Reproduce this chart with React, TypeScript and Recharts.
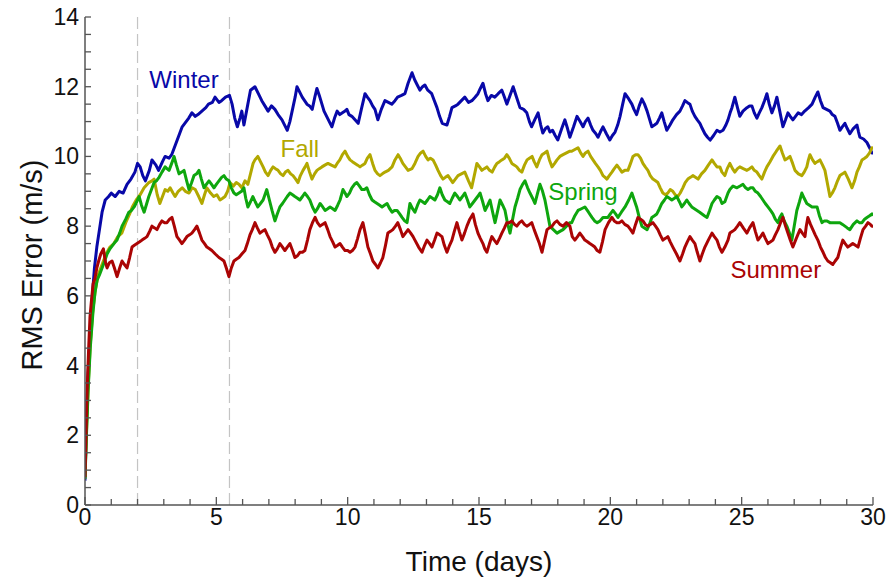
import { LineChart, Line, XAxis, YAxis, ReferenceLine, ReferenceDot } from "recharts";

// RMS forecast error per season: [day, m/s]
const WINTER: [number, number][] = [
  [0,0.7],[0.05,2.2],[0.12,3.8],[0.2,5.0],[0.28,6.0],[0.36,6.8],[0.45,7.4],[0.55,7.9],[0.65,8.4],[0.77,8.75],[0.9,8.85],[1.0,8.95],[1.15,8.85],[1.3,9.0],[1.45,8.95],[1.6,9.2],[1.75,9.35],[1.9,9.55],[2.0,9.8],[2.1,9.7],[2.2,9.45],[2.3,9.3],[2.45,9.6],[2.55,9.9],[2.7,9.75],[2.8,9.6],[2.95,9.85],[3.05,10.0],[3.2,9.95],[3.3,10.05],[3.45,10.35],[3.6,10.65],[3.7,10.85],[3.85,11.0],[3.95,11.1],[4.07,11.25],[4.2,11.15],[4.3,11.2],[4.45,11.3],[4.6,11.4],[4.7,11.5],[4.85,11.55],[4.95,11.7],[5.1,11.55],[5.2,11.6],[5.35,11.7],[5.5,11.75],[5.6,11.5],[5.7,11.1],[5.8,10.85],[5.9,11.1],[5.97,11.3],[6.05,10.9],[6.2,11.5],[6.3,11.9],[6.47,12.0],[6.6,11.8],[6.73,11.6],[6.85,11.45],[6.97,11.3],[7.1,11.45],[7.23,11.35],[7.35,11.2],[7.5,11.05],[7.6,10.9],[7.7,10.75],[7.8,11.0],[7.9,11.35],[8.0,11.7],[8.07,12.0],[8.17,11.85],[8.27,11.7],[8.45,11.5],[8.55,11.45],[8.65,11.35],[8.75,11.7],[8.83,11.95],[8.92,11.75],[9.02,11.5],[9.1,11.3],[9.2,11.15],[9.3,11.0],[9.4,10.85],[9.5,11.1],[9.6,11.3],[9.7,11.2],[9.8,11.25],[9.9,11.3],[9.97,11.35],[10.05,11.2],[10.16,11.15],[10.28,11.05],[10.4,10.95],[10.52,11.35],[10.66,11.8],[10.75,11.7],[10.85,11.6],[10.95,11.45],[11.04,11.35],[11.15,11.05],[11.28,11.35],[11.42,11.6],[11.55,11.55],[11.68,11.5],[11.8,11.6],[11.9,11.7],[12.05,11.75],[12.18,11.8],[12.3,12.1],[12.45,12.4],[12.55,12.2],[12.65,12.05],[12.75,11.9],[12.85,12.0],[12.94,12.05],[13.05,11.9],[13.2,11.8],[13.3,11.6],[13.4,11.4],[13.5,11.15],[13.6,10.95],[13.78,10.9],[13.88,11.15],[13.97,11.4],[14.1,11.45],[14.2,11.5],[14.33,11.6],[14.46,11.7],[14.6,11.55],[14.73,11.6],[14.85,11.7],[14.96,11.8],[15.05,11.95],[15.15,12.1],[15.25,11.8],[15.34,11.6],[15.47,11.75],[15.6,11.7],[15.73,11.8],[15.87,11.9],[15.97,11.7],[16.06,11.5],[16.18,11.75],[16.3,12.0],[16.43,11.7],[16.56,11.4],[16.7,11.35],[16.82,11.25],[16.92,11.0],[17.0,10.85],[17.12,11.05],[17.25,11.25],[17.35,10.9],[17.43,10.67],[17.53,10.8],[17.62,10.85],[17.7,10.7],[17.8,10.75],[17.9,10.6],[18.0,10.47],[18.15,10.8],[18.27,11.05],[18.37,10.8],[18.46,10.55],[18.6,10.85],[18.73,11.15],[18.85,11.0],[18.96,10.85],[19.05,11.0],[19.15,11.1],[19.25,10.9],[19.34,10.75],[19.45,10.65],[19.53,10.55],[19.62,10.7],[19.72,10.85],[19.85,10.65],[19.98,10.47],[20.08,10.6],[20.18,10.7],[20.28,10.9],[20.37,11.15],[20.47,11.5],[20.56,11.8],[20.7,11.65],[20.82,11.5],[20.9,11.35],[21.0,11.2],[21.1,11.45],[21.2,11.65],[21.3,11.5],[21.4,11.3],[21.5,11.05],[21.58,10.85],[21.68,10.9],[21.77,10.95],[21.87,11.1],[21.96,11.25],[22.05,11.0],[22.15,10.75],[22.27,10.9],[22.38,11.05],[22.52,11.2],[22.65,11.3],[22.75,11.45],[22.84,11.6],[22.93,11.55],[23.03,11.5],[23.12,11.3],[23.22,11.15],[23.31,11.05],[23.41,10.95],[23.5,10.8],[23.6,10.65],[23.7,10.55],[23.8,10.47],[23.93,10.6],[24.06,10.75],[24.17,10.7],[24.29,10.75],[24.4,10.9],[24.48,11.05],[24.56,11.25],[24.63,11.4],[24.74,11.7],[24.84,11.4],[24.93,11.15],[25.05,11.3],[25.2,11.4],[25.3,11.45],[25.39,11.45],[25.48,11.25],[25.58,11.1],[25.67,11.25],[25.77,11.4],[25.87,11.6],[25.96,11.8],[26.05,11.5],[26.15,11.25],[26.25,11.45],[26.34,11.7],[26.45,11.3],[26.57,10.85],[26.67,11.05],[26.76,11.25],[26.85,11.15],[26.95,11.05],[27.05,11.15],[27.15,11.25],[27.28,11.2],[27.4,11.3],[27.55,11.4],[27.68,11.5],[27.8,11.7],[27.9,11.85],[28.0,11.6],[28.1,11.4],[28.23,11.35],[28.36,11.3],[28.45,11.2],[28.55,11.15],[28.65,10.95],[28.74,10.75],[28.83,10.85],[28.93,10.95],[29.02,10.8],[29.12,10.65],[29.25,10.8],[29.39,10.9],[29.45,10.7],[29.5,10.55],[29.64,10.5],[29.77,10.4],[29.87,10.25],[29.96,10.1],[30,10.1],
];

const FALL: [number, number][] = [
  [0,0.8],[0.05,2.0],[0.12,3.4],[0.2,4.6],[0.3,5.6],[0.4,6.2],[0.5,6.6],[0.65,6.9],[0.8,7.2],[0.95,7.4],[1.1,7.5],[1.25,7.7],[1.4,7.8],[1.55,8.1],[1.7,8.35],[1.8,8.55],[1.95,8.75],[2.1,8.9],[2.25,9.1],[2.43,9.25],[2.55,9.3],[2.63,9.35],[2.75,8.9],[2.85,8.65],[2.95,8.85],[3.05,9.05],[3.15,9.0],[3.24,9.1],[3.35,8.95],[3.43,8.85],[3.55,9.0],[3.7,9.1],[3.82,9.0],[3.96,8.95],[4.08,9.1],[4.2,9.05],[4.33,8.85],[4.45,8.65],[4.55,8.9],[4.64,9.1],[4.78,8.95],[4.9,8.85],[5.02,8.9],[5.14,8.75],[5.24,8.8],[5.33,8.85],[5.43,9.0],[5.52,9.25],[5.65,9.15],[5.76,9.25],[5.86,9.2],[5.97,9.1],[6.09,9.3],[6.2,9.2],[6.3,9.5],[6.4,9.8],[6.47,9.9],[6.58,10.0],[6.68,9.85],[6.78,9.7],[6.87,9.55],[6.97,9.45],[7.07,9.6],[7.16,9.7],[7.25,9.65],[7.35,9.6],[7.45,9.5],[7.54,9.45],[7.63,9.55],[7.73,9.6],[7.83,9.5],[7.92,9.45],[8.02,9.35],[8.11,9.25],[8.2,9.45],[8.3,9.6],[8.38,9.7],[8.45,9.8],[8.55,9.55],[8.64,9.35],[8.74,9.5],[8.83,9.6],[8.92,9.65],[9.02,9.7],[9.13,9.75],[9.25,9.8],[9.38,9.75],[9.52,9.7],[9.6,9.8],[9.7,9.9],[9.8,10.05],[9.9,10.15],[10.0,10.0],[10.09,9.9],[10.18,9.85],[10.28,9.8],[10.38,9.75],[10.47,9.7],[10.56,9.75],[10.66,9.8],[10.75,9.95],[10.85,10.05],[10.95,9.8],[11.04,9.6],[11.14,9.5],[11.23,9.45],[11.32,9.5],[11.42,9.55],[11.55,9.6],[11.69,9.7],[11.8,9.9],[11.92,10.05],[12.0,9.95],[12.1,9.8],[12.2,9.7],[12.3,9.6],[12.45,9.65],[12.56,9.8],[12.68,10.0],[12.78,10.1],[12.87,10.15],[12.97,10.0],[13.06,9.9],[13.15,9.95],[13.25,9.9],[13.35,9.75],[13.44,9.6],[13.54,9.45],[13.63,9.35],[13.72,9.4],[13.82,9.45],[13.91,9.35],[14.0,9.25],[14.1,9.35],[14.2,9.45],[14.33,9.5],[14.46,9.55],[14.6,9.3],[14.72,9.1],[14.82,9.45],[14.92,9.8],[15.02,9.7],[15.11,9.6],[15.2,9.65],[15.3,9.7],[15.4,9.6],[15.5,9.55],[15.6,9.7],[15.68,9.8],[15.78,9.85],[15.87,9.9],[15.97,9.95],[16.06,10.05],[16.15,9.95],[16.25,9.8],[16.35,9.75],[16.44,9.7],[16.54,9.6],[16.63,9.55],[16.73,9.75],[16.83,9.9],[16.92,9.95],[17.02,10.0],[17.1,9.85],[17.2,9.7],[17.3,9.9],[17.4,10.05],[17.5,10.1],[17.59,10.15],[17.68,9.9],[17.78,9.7],[17.88,9.8],[17.97,9.9],[18.08,10.0],[18.2,10.05],[18.33,10.1],[18.46,10.15],[18.53,10.15],[18.65,10.2],[18.77,10.25],[18.87,10.1],[18.96,10.0],[19.05,10.1],[19.15,10.15],[19.25,10.0],[19.34,9.9],[19.43,9.8],[19.53,9.7],[19.62,9.6],[19.72,9.45],[19.8,9.4],[19.87,9.35],[19.96,9.45],[20.06,9.55],[20.15,9.65],[20.25,9.75],[20.35,9.65],[20.44,9.55],[20.55,9.6],[20.67,9.6],[20.77,9.8],[20.86,10.0],[20.96,10.05],[21.05,10.05],[21.15,9.95],[21.24,9.8],[21.33,9.7],[21.43,9.6],[21.52,9.45],[21.62,9.35],[21.72,9.3],[21.81,9.25],[21.9,9.1],[22.0,8.95],[22.1,8.9],[22.19,8.95],[22.28,9.05],[22.38,9.0],[22.47,8.9],[22.57,8.85],[22.66,8.95],[22.76,9.1],[22.85,9.25],[22.95,9.35],[23.05,9.4],[23.14,9.45],[23.24,9.4],[23.34,9.35],[23.47,9.5],[23.6,9.6],[23.73,9.75],[23.87,9.9],[23.96,9.8],[24.06,9.7],[24.17,9.7],[24.25,9.55],[24.36,9.45],[24.45,9.65],[24.55,9.8],[24.65,9.65],[24.74,9.55],[24.84,9.65],[24.93,9.7],[25.06,9.65],[25.2,9.6],[25.3,9.65],[25.39,9.7],[25.48,9.6],[25.58,9.55],[25.67,9.45],[25.77,9.35],[25.87,9.55],[25.96,9.7],[26.08,9.85],[26.19,10.0],[26.32,10.15],[26.46,10.3],[26.55,10.1],[26.65,9.9],[26.75,9.95],[26.84,10.0],[26.94,9.8],[27.03,9.6],[27.16,9.5],[27.29,9.45],[27.38,9.55],[27.48,9.7],[27.54,9.9],[27.6,10.05],[27.7,9.9],[27.79,9.8],[27.88,9.85],[27.98,9.9],[28.08,9.75],[28.17,9.6],[28.27,9.2],[28.36,8.85],[28.45,8.95],[28.55,9.1],[28.65,9.3],[28.74,9.45],[28.84,9.5],[28.93,9.55],[29.06,9.35],[29.2,9.1],[29.3,9.3],[29.39,9.55],[29.48,9.7],[29.58,9.9],[29.68,9.95],[29.77,10.0],[29.87,10.1],[29.96,10.25],[30,10.2],
];

const SPRING: [number, number][] = [
  [0,0.75],[0.05,1.9],[0.12,3.3],[0.2,4.5],[0.3,5.5],[0.38,6.1],[0.46,6.45],[0.55,6.6],[0.65,6.8],[0.75,7.0],[0.84,7.2],[0.95,7.35],[1.1,7.5],[1.22,7.6],[1.32,7.8],[1.41,8.0],[1.55,8.2],[1.67,8.4],[1.77,8.45],[1.87,8.55],[1.97,8.7],[2.06,8.85],[2.15,8.6],[2.25,8.4],[2.35,8.65],[2.43,8.85],[2.53,9.05],[2.63,9.25],[2.72,9.3],[2.82,9.4],[2.93,9.55],[3.05,9.7],[3.12,9.65],[3.2,9.6],[3.3,9.8],[3.39,10.0],[3.48,9.75],[3.58,9.5],[3.68,9.55],[3.77,9.6],[3.87,9.3],[3.96,9.05],[4.06,9.25],[4.15,9.45],[4.25,9.5],[4.34,9.6],[4.43,9.35],[4.53,9.1],[4.62,9.2],[4.72,9.3],[4.82,9.2],[4.91,9.1],[5.0,9.2],[5.1,9.3],[5.2,9.4],[5.29,9.45],[5.38,9.35],[5.48,9.3],[5.57,9.1],[5.67,8.95],[5.76,8.9],[5.86,8.95],[5.96,9.0],[6.05,9.1],[6.12,8.8],[6.2,8.55],[6.3,8.7],[6.39,8.85],[6.48,8.7],[6.58,8.55],[6.68,8.65],[6.78,8.75],[6.85,8.9],[6.92,9.05],[7.02,8.75],[7.12,8.45],[7.23,8.15],[7.32,8.35],[7.42,8.55],[7.52,8.65],[7.61,8.75],[7.7,8.85],[7.8,8.95],[7.9,8.9],[7.99,8.85],[8.09,8.8],[8.18,8.75],[8.28,8.85],[8.37,8.95],[8.47,8.85],[8.56,8.75],[8.66,8.55],[8.76,8.4],[8.85,8.5],[8.95,8.65],[9.05,8.55],[9.14,8.45],[9.24,8.5],[9.33,8.55],[9.43,8.5],[9.52,8.45],[9.62,8.6],[9.71,8.75],[9.82,9.05],[9.9,8.95],[9.97,8.85],[10.07,8.95],[10.16,9.1],[10.26,9.2],[10.35,9.25],[10.45,9.15],[10.54,9.05],[10.64,9.05],[10.73,9.1],[10.83,8.9],[10.93,8.75],[11.02,8.7],[11.12,8.65],[11.22,8.6],[11.31,8.55],[11.4,8.6],[11.5,8.65],[11.6,8.5],[11.69,8.4],[11.78,8.45],[11.88,8.45],[11.98,8.35],[12.07,8.25],[12.17,8.15],[12.26,8.1],[12.37,8.65],[12.47,8.5],[12.56,8.4],[12.66,8.6],[12.75,8.75],[12.85,8.7],[12.94,8.65],[13.04,8.75],[13.13,8.85],[13.23,8.8],[13.32,8.75],[13.42,8.9],[13.51,9.1],[13.6,8.9],[13.7,8.75],[13.8,8.7],[13.89,8.65],[13.98,8.8],[14.08,8.95],[14.18,8.85],[14.27,8.75],[14.37,8.85],[14.46,8.95],[14.56,8.75],[14.65,8.55],[14.75,8.65],[14.85,8.75],[14.95,8.85],[15.04,8.95],[15.14,8.7],[15.23,8.45],[15.33,8.6],[15.42,8.75],[15.52,8.4],[15.61,8.1],[15.7,8.4],[15.8,8.75],[15.9,8.6],[15.99,8.45],[16.08,8.1],[16.18,7.8],[16.28,8.2],[16.37,8.55],[16.47,8.8],[16.56,9.05],[16.66,9.2],[16.75,9.3],[16.85,9.1],[16.94,8.95],[17.04,8.8],[17.13,8.65],[17.23,8.95],[17.32,9.2],[17.42,9.0],[17.51,8.75],[17.6,8.4],[17.7,8.0],[17.83,7.9],[17.97,7.8],[18.08,7.85],[18.2,7.9],[18.33,8.0],[18.46,8.1],[18.53,8.1],[18.65,8.3],[18.77,8.45],[18.9,8.5],[19.03,8.55],[19.17,8.4],[19.3,8.25],[19.4,8.15],[19.5,8.1],[19.61,8.15],[19.72,8.25],[19.82,8.25],[19.91,8.25],[20.0,8.35],[20.1,8.45],[20.2,8.35],[20.29,8.25],[20.42,8.4],[20.56,8.55],[20.7,8.75],[20.82,8.95],[20.91,8.75],[21.0,8.55],[21.1,8.25],[21.2,8.0],[21.3,7.95],[21.4,7.9],[21.49,8.05],[21.58,8.25],[21.68,8.3],[21.77,8.35],[21.87,8.5],[21.96,8.65],[22.06,8.75],[22.15,8.85],[22.25,8.8],[22.34,8.75],[22.44,8.8],[22.53,8.85],[22.63,8.7],[22.72,8.55],[22.82,8.65],[22.91,8.75],[23.0,8.65],[23.1,8.55],[23.2,8.5],[23.3,8.45],[23.4,8.4],[23.49,8.35],[23.58,8.3],[23.68,8.25],[23.78,8.45],[23.87,8.65],[23.96,8.75],[24.06,8.85],[24.17,8.8],[24.25,8.65],[24.36,8.7],[24.48,8.95],[24.55,9.05],[24.67,9.15],[24.82,9.1],[24.94,9.15],[25.05,9.2],[25.15,9.1],[25.24,9.05],[25.34,9.1],[25.43,9.1],[25.52,9.0],[25.62,8.95],[25.72,8.85],[25.81,8.75],[25.9,8.65],[26.0,8.55],[26.1,8.45],[26.19,8.35],[26.28,8.2],[26.38,8.1],[26.45,8.25],[26.53,8.35],[26.62,8.15],[26.72,8.0],[26.82,7.8],[26.91,7.6],[27.0,8.0],[27.1,8.45],[27.2,8.7],[27.29,8.95],[27.38,8.8],[27.48,8.65],[27.58,8.6],[27.68,8.55],[27.77,8.55],[27.87,8.55],[27.96,8.3],[28.06,8.1],[28.15,8.15],[28.25,8.15],[28.36,8.1],[28.47,8.1],[28.6,8.1],[28.74,8.1],[28.84,8.05],[28.93,8.0],[29.02,7.95],[29.12,7.9],[29.25,8.05],[29.39,8.15],[29.48,8.1],[29.58,8.1],[29.68,8.2],[29.77,8.25],[29.87,8.3],[29.96,8.35],[30,8.3],
];

const SUMMER: [number, number][] = [
  [0,0.8],[0.05,2.3],[0.09,3.5],[0.14,4.5],[0.19,5.4],[0.25,5.9],[0.31,6.35],[0.38,6.5],[0.45,6.8],[0.52,7.0],[0.6,7.2],[0.7,7.35],[0.77,7.0],[0.84,6.8],[0.93,6.95],[1.03,7.0],[1.12,6.8],[1.22,6.55],[1.32,6.8],[1.41,7.0],[1.5,6.9],[1.6,6.8],[1.7,7.1],[1.79,7.4],[1.88,7.45],[1.98,7.5],[2.08,7.55],[2.17,7.6],[2.27,7.65],[2.36,7.7],[2.46,7.85],[2.55,8.0],[2.65,7.95],[2.74,7.9],[2.84,8.05],[2.93,8.15],[3.03,8.1],[3.12,8.1],[3.22,8.2],[3.31,8.25],[3.4,8.0],[3.5,7.7],[3.6,7.6],[3.69,7.5],[3.79,7.6],[3.88,7.7],[3.98,7.75],[4.07,7.8],[4.17,7.9],[4.26,8.0],[4.36,7.8],[4.45,7.6],[4.55,7.5],[4.64,7.4],[4.74,7.35],[4.83,7.3],[4.96,7.2],[5.1,7.1],[5.2,7.05],[5.29,7.0],[5.38,6.8],[5.48,6.55],[5.57,6.8],[5.67,7.0],[5.76,7.05],[5.86,7.1],[5.97,7.2],[6.09,7.3],[6.18,7.5],[6.28,7.75],[6.37,7.9],[6.47,8.1],[6.56,7.95],[6.66,7.8],[6.75,7.85],[6.85,7.9],[6.94,7.75],[7.04,7.6],[7.13,7.4],[7.23,7.25],[7.32,7.35],[7.42,7.5],[7.52,7.4],[7.61,7.3],[7.7,7.4],[7.8,7.5],[7.9,7.3],[7.99,7.1],[8.09,7.15],[8.18,7.25],[8.28,7.25],[8.37,7.3],[8.47,7.6],[8.56,7.9],[8.66,8.1],[8.76,8.25],[8.85,8.1],[8.95,8.0],[9.04,8.05],[9.14,8.1],[9.24,7.9],[9.33,7.7],[9.43,7.55],[9.52,7.4],[9.62,7.45],[9.71,7.5],[9.8,7.4],[9.9,7.3],[10.0,7.3],[10.09,7.25],[10.18,7.3],[10.28,7.4],[10.38,7.65],[10.47,7.9],[10.58,8.1],[10.68,7.75],[10.77,7.4],[10.87,7.2],[10.96,7.0],[11.06,6.9],[11.15,6.8],[11.25,6.95],[11.34,7.1],[11.44,7.45],[11.53,7.8],[11.63,7.85],[11.72,7.9],[11.82,8.0],[11.91,8.1],[12.01,7.9],[12.1,7.7],[12.2,7.8],[12.3,7.9],[12.4,7.8],[12.49,7.7],[12.56,7.6],[12.7,7.4],[12.83,7.25],[12.93,7.45],[13.02,7.6],[13.12,7.5],[13.21,7.4],[13.31,7.6],[13.4,7.8],[13.5,7.75],[13.59,7.7],[13.68,7.45],[13.78,7.25],[13.88,7.45],[13.97,7.6],[14.06,7.85],[14.16,8.1],[14.25,7.85],[14.35,7.6],[14.45,7.8],[14.54,8.0],[14.65,8.2],[14.77,8.35],[14.86,8.05],[14.96,7.8],[15.05,7.65],[15.15,7.5],[15.22,7.35],[15.3,7.25],[15.4,7.5],[15.49,7.7],[15.58,7.6],[15.68,7.5],[15.78,7.65],[15.87,7.8],[15.97,7.95],[16.06,8.1],[16.15,8.1],[16.25,8.15],[16.35,8.05],[16.44,8.0],[16.54,8.1],[16.63,8.15],[16.73,8.05],[16.82,8.0],[16.92,8.05],[17.01,8.1],[17.1,7.9],[17.2,7.7],[17.3,7.5],[17.4,7.25],[17.5,7.6],[17.59,7.9],[17.68,7.95],[17.78,8.0],[17.88,8.1],[17.97,8.15],[18.08,8.05],[18.2,8.0],[18.33,8.1],[18.46,8.0],[18.55,7.7],[18.65,7.6],[18.75,7.7],[18.84,7.8],[18.94,7.7],[19.03,7.6],[19.13,7.55],[19.22,7.5],[19.32,7.45],[19.41,7.4],[19.5,7.3],[19.6,7.25],[19.7,7.55],[19.8,7.9],[19.93,8.1],[20.06,8.25],[20.15,8.15],[20.25,8.1],[20.35,8.1],[20.44,8.15],[20.55,8.05],[20.67,8.0],[20.77,7.9],[20.86,7.8],[20.96,8.05],[21.05,8.25],[21.15,8.2],[21.24,8.15],[21.33,8.05],[21.43,8.0],[21.52,8.05],[21.62,8.1],[21.72,8.0],[21.81,7.9],[21.9,7.75],[22.0,7.6],[22.1,7.65],[22.19,7.7],[22.28,7.55],[22.38,7.4],[22.52,7.2],[22.65,7.0],[22.75,7.2],[22.84,7.4],[22.93,7.55],[23.03,7.7],[23.12,7.6],[23.22,7.5],[23.31,7.25],[23.41,7.0],[23.5,7.2],[23.6,7.4],[23.73,7.6],[23.87,7.8],[23.96,7.7],[24.06,7.6],[24.15,7.4],[24.25,7.25],[24.36,7.4],[24.48,7.6],[24.55,7.8],[24.65,7.85],[24.74,7.9],[24.84,8.0],[24.93,8.1],[25.06,7.95],[25.2,7.8],[25.3,7.95],[25.43,8.1],[25.52,7.85],[25.62,7.6],[25.72,7.7],[25.81,7.8],[25.9,7.65],[26.0,7.5],[26.1,7.55],[26.19,7.6],[26.28,7.75],[26.38,7.9],[26.48,8.1],[26.57,8.25],[26.67,8.0],[26.76,7.8],[26.85,7.6],[26.95,7.4],[27.08,7.65],[27.22,7.9],[27.31,7.8],[27.41,7.7],[27.46,8.0],[27.52,8.25],[27.62,8.05],[27.71,7.9],[27.8,7.75],[27.9,7.6],[28.0,7.4],[28.1,7.25],[28.19,7.1],[28.28,7.0],[28.38,6.95],[28.47,6.9],[28.56,7.0],[28.66,7.1],[28.75,7.35],[28.85,7.6],[28.94,7.5],[29.04,7.4],[29.14,7.45],[29.23,7.5],[29.33,7.45],[29.43,7.4],[29.52,7.65],[29.62,7.9],[29.72,8.0],[29.81,8.1],[29.9,8.05],[29.96,8.0],[30,8.0],
];

const X_TICKS = Array.from({ length: 31 }, (_, i) => i);
const Y_TICKS = Array.from({ length: 29 }, (_, i) => i / 2);
const X_LABEL_EVERY = 5;
const Y_LABEL_EVERY = 2;
const MARKER_DAYS = [2, 5.5];

// season name, colour, series, label position [day, m/s]
const SEASONS = [
  { name: "Winter", color: "#0808a8", data: WINTER, at: [3.77, 12.22] },
  { name: "Fall", color: "#b2a800", data: FALL, at: [8.18, 10.23] },
  { name: "Spring", color: "#0ea60e", data: SPRING, at: [18.96, 8.99] },
  { name: "Summer", color: "#aa0404", data: SUMMER, at: [26.3, 6.77] },
];

const FONT = "'Liberation Sans', Arial, Helvetica, sans-serif";
const AXIS = "#555";
const TEXT = "#111";
const TICK_FONT = 23;

const toRows = (pts: [number, number][]) => pts.map(([t, v]) => ({ t, v }));

function BottomTick({ x, y, payload }: any) {
  const v = payload.value;
  const major = v % X_LABEL_EVERY === 0;
  return (
    <g>
      <line x1={x} x2={x} y1={y} y2={y - (major ? 8 : 6)} stroke={AXIS} strokeWidth={1.3} />
      {major && (
        <text x={x} y={y + 20} textAnchor="middle" fontSize={TICK_FONT} fill={TEXT} fontFamily={FONT}>
          {v}
        </text>
      )}
    </g>
  );
}

function TopTick({ x, y }: any) {
  return <line x1={x} x2={x} y1={y} y2={y + 6} stroke={AXIS} strokeWidth={1.3} />;
}

function LeftTick({ x, y, payload }: any) {
  const v = payload.value;
  return (
    <g>
      <line x1={x} x2={x + 6} y1={y} y2={y} stroke={AXIS} strokeWidth={1.3} />
      {v % Y_LABEL_EVERY === 0 && (
        <text x={x - 6} y={y + 8} textAnchor="end" fontSize={TICK_FONT} fill={TEXT} fontFamily={FONT}>
          {v}
        </text>
      )}
    </g>
  );
}

function RightTick({ x, y }: any) {
  return <line x1={x} x2={x - 6} y1={y} y2={y} stroke={AXIS} strokeWidth={1.3} />;
}

export default function App() {
  return (
    <div style={{ position: "absolute", left: 0, top: 0, background: "#fff" }}>
      <LineChart
        width={888}
        height={582}
        margin={{ top: 17, right: 15, left: 25, bottom: 27 }}
        style={{ fontFamily: FONT }}
      >
        <XAxis
          xAxisId="b"
          dataKey="t"
          type="number"
          domain={[0, 30]}
          ticks={X_TICKS}
          interval={0}
          allowDataOverflow
          height={50}
          tickSize={0}
          tickMargin={0}
          tickLine={false}
          axisLine={{ stroke: AXIS, strokeWidth: 1.5 }}
          tick={<BottomTick />}
          label={{
            value: "Time (days)",
            position: "bottom",
            offset: -4,
            fontSize: 28,
            fill: TEXT,
            fontFamily: FONT,
          }}
        />
        <XAxis
          xAxisId="t"
          orientation="top"
          dataKey="t"
          type="number"
          domain={[0, 30]}
          ticks={X_TICKS}
          interval={0}
          allowDataOverflow
          height={0}
          tickSize={0}
          tickMargin={0}
          tickLine={false}
          axisLine={{ stroke: AXIS, strokeWidth: 1.5 }}
          tick={<TopTick />}
        />
        <YAxis
          yAxisId="l"
          type="number"
          domain={[0, 14]}
          ticks={Y_TICKS}
          interval={0}
          allowDataOverflow
          width={60}
          tickSize={0}
          tickMargin={0}
          tickLine={false}
          axisLine={{ stroke: AXIS, strokeWidth: 1.5 }}
          tick={<LeftTick />}
          label={{
            value: "RMS Error (m/s)",
            angle: -90,
            position: "insideLeft",
            offset: 7,
            dy: 4,
            fontSize: 29,
            fill: TEXT,
            fontFamily: FONT,
            style: { textAnchor: "middle" },
          }}
        />
        <YAxis
          yAxisId="r"
          orientation="right"
          type="number"
          domain={[0, 14]}
          ticks={Y_TICKS}
          interval={0}
          allowDataOverflow
          width={0}
          tickSize={0}
          tickMargin={0}
          tickLine={false}
          axisLine={{ stroke: AXIS, strokeWidth: 1.5 }}
          tick={<RightTick />}
        />

        {MARKER_DAYS.map((d) => (
          <ReferenceLine
            key={d}
            x={d}
            xAxisId="b"
            yAxisId="l"
            stroke="#c4c4c4"
            strokeWidth={1.2}
            strokeDasharray="12 5"
          />
        ))}

        {SEASONS.map((s) => (
          <Line
            key={s.name}
            xAxisId="b"
            yAxisId="l"
            data={toRows(s.data)}
            dataKey="v"
            name={s.name}
            type="linear"
            stroke={s.color}
            strokeWidth={3}
            strokeLinejoin="round"
            dot={false}
            activeDot={false}
            isAnimationActive={false}
          />
        ))}

        {SEASONS.map((s) => (
          <ReferenceDot
            key={`lbl-${s.name}`}
            xAxisId="b"
            yAxisId="l"
            x={s.at[0]}
            y={s.at[1]}
            r={1}
            fill="none"
            stroke="none"
            label={{
              value: s.name,
              position: "center",
              fill: s.color,
              fontSize: 24,
              fontFamily: FONT,
            }}
          />
        ))}
      </LineChart>
    </div>
  );
}
